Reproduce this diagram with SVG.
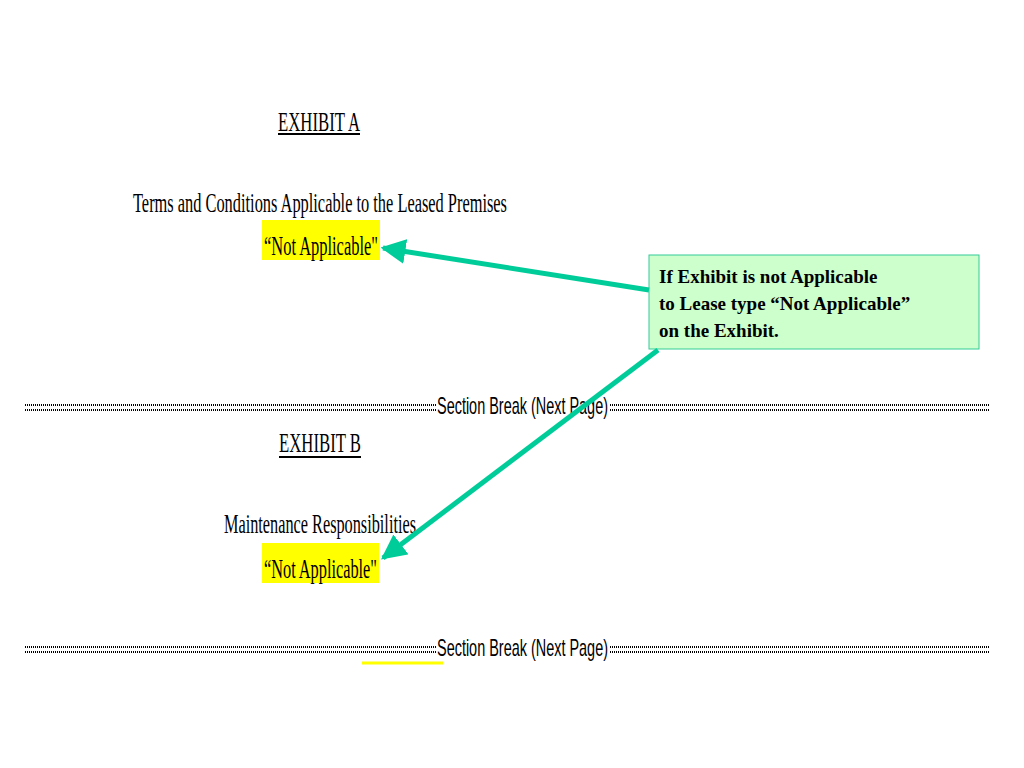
<svg xmlns="http://www.w3.org/2000/svg" width="1024" height="768" viewBox="0 0 1024 768">
<defs>
<style>
.c{font-family:"Liberation Serif","DejaVu Serif",serif;font-size:28px;fill:#000}
.s{font-family:"Liberation Sans","DejaVu Sans",sans-serif;font-size:24px;fill:#000}
.b{font-family:"Liberation Serif",serif;font-size:19px;font-weight:bold;fill:#000}
.dot{stroke:#000;stroke-width:2;stroke-dasharray:1 1;fill:none}
.arr{stroke:#00cc99;stroke-width:5;fill:none;marker-end:url(#ah)}
</style>
<marker id="ah" viewBox="0 0 10 10" refX="9" refY="5" markerWidth="5" markerHeight="5" orient="auto" markerUnits="strokeWidth">
<path d="M0,0 L10,5 L0,10 z" fill="#00cc99"/>
</marker>
</defs>
<rect width="1024" height="768" fill="#fff"/>
<g id="exhibitA">
<text class="c" x="278" y="131" textLength="82" lengthAdjust="spacingAndGlyphs">EXHIBIT A</text>
<line x1="278" y1="134" x2="360" y2="134" stroke="#000" stroke-width="2"/>
<text class="c" x="133" y="212" textLength="374" lengthAdjust="spacingAndGlyphs">Terms and Conditions Applicable to the Leased Premises</text>
<rect x="262" y="220" width="118" height="40" fill="#ffff00"/>
<text class="c" x="264" y="255" textLength="114" lengthAdjust="spacingAndGlyphs">“Not Applicable"</text>
</g>
<g id="break1">
<line class="dot" x1="25" y1="405" x2="437" y2="405"/>
<line class="dot" x1="25" y1="410" x2="437" y2="410"/>
<text class="s" x="437" y="414" textLength="171" lengthAdjust="spacingAndGlyphs">Section Break (Next Page)</text>
<line class="dot" x1="610" y1="405" x2="990" y2="405"/>
<line class="dot" x1="610" y1="410" x2="990" y2="410"/>
</g>
<g id="exhibitB">
<text class="c" x="279" y="452" textLength="82" lengthAdjust="spacingAndGlyphs">EXHIBIT B</text>
<line x1="279" y1="457" x2="361" y2="457" stroke="#000" stroke-width="2"/>
<text class="c" x="224" y="533" textLength="192" lengthAdjust="spacingAndGlyphs">Maintenance Responsibilities</text>
<rect x="262" y="543" width="117" height="40" fill="#ffff00"/>
<text class="c" x="264" y="578" textLength="113" lengthAdjust="spacingAndGlyphs">“Not Applicable"</text>
</g>
<g id="break2">
<line class="dot" x1="25" y1="647" x2="437" y2="647"/>
<line class="dot" x1="25" y1="652" x2="437" y2="652"/>
<text class="s" x="437" y="656" textLength="171" lengthAdjust="spacingAndGlyphs">Section Break (Next Page)</text>
<line class="dot" x1="610" y1="647" x2="990" y2="647"/>
<line class="dot" x1="610" y1="652" x2="990" y2="652"/>
<line x1="362" y1="663" x2="443" y2="663" stroke="#ffff00" stroke-width="3"/>
</g>
<g id="note">
<rect x="649" y="255" width="330" height="94" fill="#ccffcc" stroke="#33cc99" stroke-width="1"/>
<text class="b" x="659" y="283">If Exhibit is not Applicable</text>
<text class="b" x="659" y="310">to Lease type “Not Applicable”</text>
<text class="b" x="659" y="337">on the Exhibit.</text>
</g>
<g id="connectors">
<line class="arr" x1="649" y1="290" x2="383" y2="248"/>
<line class="arr" x1="658" y1="350" x2="383" y2="558"/>
</g>
</svg>
